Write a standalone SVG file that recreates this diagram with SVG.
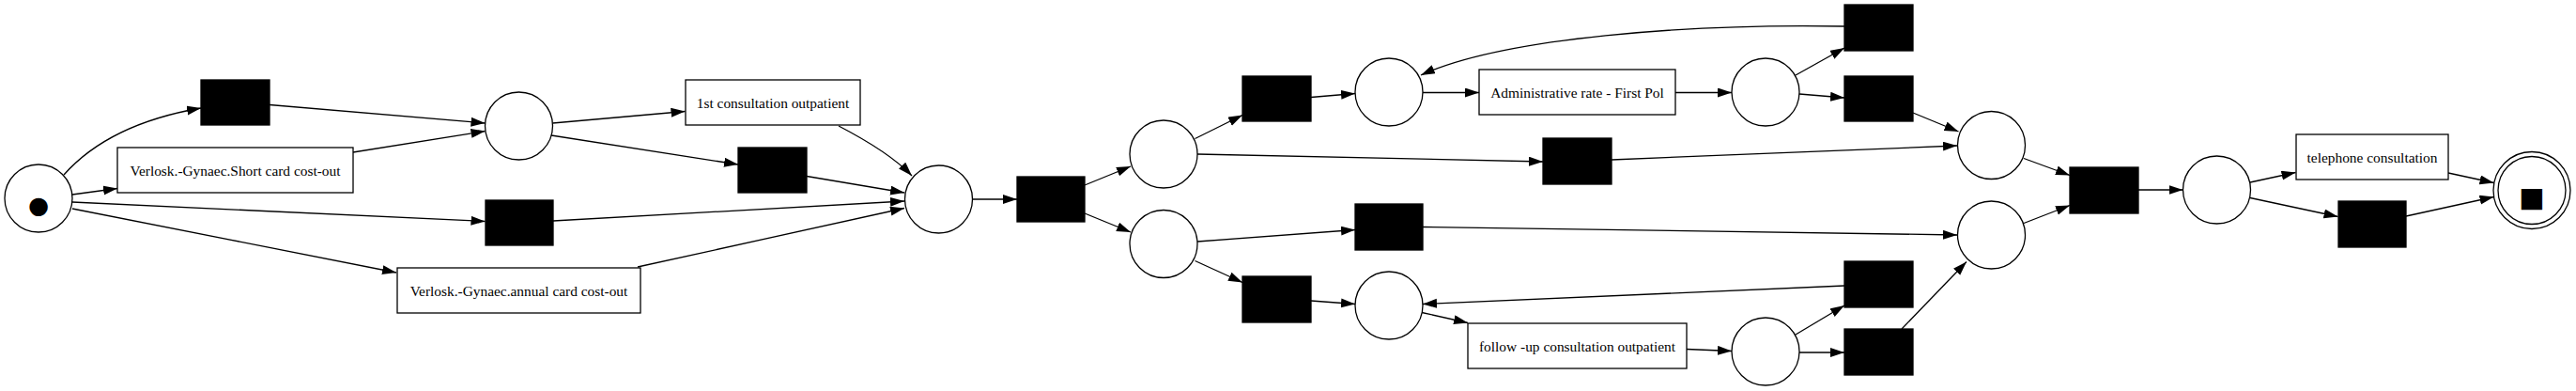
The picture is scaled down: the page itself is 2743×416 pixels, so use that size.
<svg xmlns="http://www.w3.org/2000/svg" width="2743" height="416" viewBox="0 0 2743 416">
<style>
.p{fill:#fff;stroke:#000;stroke-width:1.3}
.t{fill:#000;stroke:#000;stroke-width:1.3}
.b{fill:#fff;stroke:#000;stroke-width:1.3}
.l{font-family:"Liberation Serif","Times New Roman",serif;font-size:15.4px;text-anchor:middle;fill:#000}
.k{font-family:"Liberation Serif","DejaVu Sans",serif;text-anchor:middle;fill:#000}
#edges path{fill:none;stroke:#000;stroke-width:1.3;marker-end:url(#ah)}
</style>
<defs>
<marker id="ah" markerUnits="userSpaceOnUse" markerWidth="16" markerHeight="11" refX="15" refY="5" orient="auto"><path d="M0,0 L15,5 L0,10 z" fill="#000"/></marker>
</defs>
<rect x="0" y="0" width="2743" height="416" fill="#fff"/>
<g id="edges">
<path d="M68,186 C100,150 150,126 214,115"/>
<path d="M77,207 L125,200.5"/>
<path d="M77,215 L516.5,235.5"/>
<path d="M77,222 L422,290"/>
<path d="M287,111.5 L516.5,131"/>
<path d="M376,162 L516.5,139.5"/>
<path d="M588.5,131 L729.5,118.5"/>
<path d="M587,144 L786,175"/>
<path d="M893,134 C920,148 950,165 971,187"/>
<path d="M859,187.5 L963,205"/>
<path d="M589,235 L963,214"/>
<path d="M679,284 L963,221.5"/>
<path d="M1035,212 L1083,212"/>
<path d="M1155,197 L1204,177"/>
<path d="M1155,227 L1204,247"/>
<path d="M1272.5,147.5 L1323,122.5"/>
<path d="M1275,164 L1643,172"/>
<path d="M1275,257 L1443,244.5"/>
<path d="M1272.5,277.5 L1323,300.5"/>
<path d="M1396,103.5 L1443,99.5"/>
<path d="M1515,98.5 L1575,98.5"/>
<path d="M1784,98.5 L1844,98.5"/>
<path d="M1912,80 L1964,51"/>
<path d="M1916,100 L1964,104"/>
<path d="M1964,28 C1800,25 1600,40 1513,80"/>
<path d="M2037,120 L2085.5,140"/>
<path d="M1716,170 L2084,155"/>
<path d="M1515,241.5 L2084,250"/>
<path d="M1396,320 L1443,323.5"/>
<path d="M1514,332.5 L1563,343.5"/>
<path d="M1796,371.5 L1844,373.5"/>
<path d="M1912,356 L1964,325"/>
<path d="M1916,375 L1964,375"/>
<path d="M1964,304 L1515,323.5"/>
<path d="M2025,350 L2094,278.5"/>
<path d="M2155,168.5 L2204,186.5"/>
<path d="M2155,237.5 L2204,218.5"/>
<path d="M2277,202 L2324.5,202"/>
<path d="M2396,194 L2444.5,183.5"/>
<path d="M2396,210.5 L2489.5,230.5"/>
<path d="M2607,184 L2655.5,194.5"/>
<path d="M2562,230 L2655.5,209.5"/>
</g>
<g id="start"><circle class="p" cx="41" cy="211" r="36"/><text class="k" x="41" y="233" font-size="45">●</text></g>
<g id="p1"><circle class="p" cx="552.5" cy="134" r="36"/></g>
<g id="p2"><circle class="p" cx="999.5" cy="212" r="36"/></g>
<g id="p3"><circle class="p" cx="1239" cy="164" r="36"/></g>
<g id="p4"><circle class="p" cx="1239" cy="259.5" r="36"/></g>
<g id="p5"><circle class="p" cx="1479" cy="98" r="36"/></g>
<g id="p6"><circle class="p" cx="1880" cy="98" r="36"/></g>
<g id="p7"><circle class="p" cx="1479" cy="325" r="36"/></g>
<g id="p8"><circle class="p" cx="1880" cy="374" r="36"/></g>
<g id="p9"><circle class="p" cx="2120.5" cy="154.5" r="36"/></g>
<g id="p10"><circle class="p" cx="2120.5" cy="250" r="36"/></g>
<g id="p11"><circle class="p" cx="2360.5" cy="202" r="36"/></g>
<g id="end"><circle class="p" cx="2696" cy="202.5" r="41"/><circle class="p" cx="2696" cy="202.5" r="36"/><text class="k" x="2696" y="226" font-size="46">■</text></g>
<g id="t1"><rect class="t" x="214" y="85" width="73" height="48"/></g>
<g id="t2"><rect class="t" x="517" y="213" width="72" height="48"/></g>
<g id="t3"><rect class="t" x="786" y="157" width="73" height="48"/></g>
<g id="t4"><rect class="t" x="1083" y="188" width="72" height="48"/></g>
<g id="t5"><rect class="t" x="1323" y="81" width="73" height="48"/></g>
<g id="t6"><rect class="t" x="1323" y="294" width="73" height="49"/></g>
<g id="t7"><rect class="t" x="1643" y="147" width="73" height="49"/></g>
<g id="t8"><rect class="t" x="1443" y="217" width="72" height="49"/></g>
<g id="t9"><rect class="t" x="1964" y="5" width="73" height="49"/></g>
<g id="t10"><rect class="t" x="1964" y="81" width="73" height="48"/></g>
<g id="t11"><rect class="t" x="1964" y="278" width="73" height="49"/></g>
<g id="t12"><rect class="t" x="1964" y="350" width="73" height="49"/></g>
<g id="t13"><rect class="t" x="2204" y="178" width="73" height="49"/></g>
<g id="t14"><rect class="t" x="2490" y="214" width="72" height="49"/></g>
<g id="a1"><rect class="b" x="125" y="157" width="251" height="48"/><text class="l" x="250.5" y="186.5">Verlosk.-Gynaec.Short card cost-out</text></g>
<g id="a2"><rect class="b" x="423" y="285" width="259" height="48"/><text class="l" x="552.5" y="314.5">Verlosk.-Gynaec.annual card cost-out</text></g>
<g id="a3"><rect class="b" x="730" y="85" width="186" height="48"/><text class="l" x="823" y="114.5">1st consultation outpatient</text></g>
<g id="a4"><rect class="b" x="1575" y="74" width="209" height="48"/><text class="l" x="1679.5" y="103.5">Administrative rate - First Pol</text></g>
<g id="a5"><rect class="b" x="1563" y="344" width="233" height="48"/><text class="l" x="1679.5" y="373.5">follow -up consultation outpatient</text></g>
<g id="a6"><rect class="b" x="2445" y="143" width="162" height="48"/><text class="l" x="2526" y="172.5">telephone consultation</text></g>
</svg>
